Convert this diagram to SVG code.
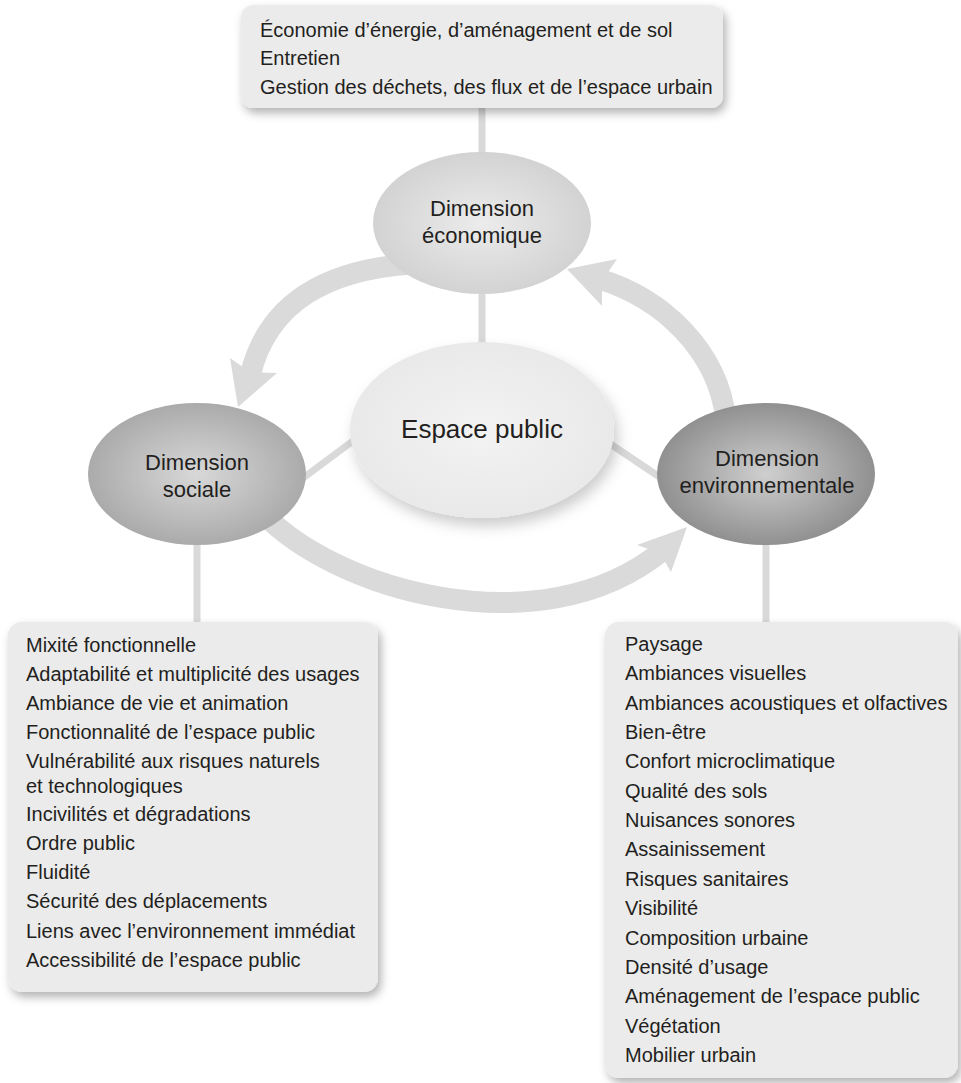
<svg xmlns="http://www.w3.org/2000/svg" width="961" height="1083" viewBox="0 0 961 1083">
<style>
  text { font-family: "Liberation Sans", Arial, sans-serif; fill: #231f20; }
  .list { font-size: 20px; }
  .dim { font-size: 22px; text-anchor: middle; }
  .conn { stroke: #d9d9d9; stroke-width: 7; fill: none; }
  .band { stroke: #dadada; stroke-width: 21; fill: none; }
  .head { fill: #dadada; }
  .box { fill: #ebebeb; }
</style>
<defs>
  <filter id="shadow" x="-10%" y="-10%" width="125%" height="130%">
    <feDropShadow dx="3" dy="5" stdDeviation="5" flood-color="#000" flood-opacity="0.3"/>
  </filter>
  <filter id="eshadow" x="-15%" y="-15%" width="135%" height="140%">
    <feDropShadow dx="4" dy="8" stdDeviation="7" flood-color="#000" flood-opacity="0.2"/>
  </filter>
  <radialGradient id="gEcon" cx="50%" cy="50%" r="55%">
    <stop offset="0" stop-color="#ececec"/>
    <stop offset="1" stop-color="#d0d0d0"/>
  </radialGradient>
  <radialGradient id="gSocial" cx="50%" cy="50%" r="55%">
    <stop offset="0" stop-color="#d8d8d8"/>
    <stop offset="1" stop-color="#a6a6a6"/>
  </radialGradient>
  <radialGradient id="gEnv" cx="50%" cy="50%" r="55%">
    <stop offset="0" stop-color="#cfcfcf"/>
    <stop offset="1" stop-color="#8a8a8a"/>
  </radialGradient>
  <radialGradient id="gCenter" cx="50%" cy="50%" r="55%">
    <stop offset="0" stop-color="#f3f3f3"/>
    <stop offset="1" stop-color="#e8e8e8"/>
  </radialGradient>
</defs>
<rect width="961" height="1083" fill="#ffffff"/>

<g id="connectors">
  <line class="conn" x1="482" y1="100" x2="482" y2="160"/>
  <line class="conn" x1="482" y1="285" x2="482" y2="350"/>
  <line class="conn" x1="295" y1="484" x2="365" y2="432"/>
  <line class="conn" x1="600" y1="437" x2="670" y2="484"/>
  <line class="conn" x1="197" y1="540" x2="197" y2="628"/>
  <line class="conn" x1="766" y1="540" x2="766" y2="628"/>
  <!-- economic -> social -->
  <path class="band" d="M410,264 C330,270 268,300 250,376"/>
  <polygon class="head" points="230,358 238,407 277,373 250,372"/>
  <!-- social -> environmental -->
  <path class="band" d="M258,508 C330,590 540,650 662,551"/>
  <polygon class="head" points="637,545 687,527 671,572 660,553"/>
  <!-- environmental -> economic -->
  <path class="band" d="M726,420 C718,350 662,298 599,279"/>
  <polygon class="head" points="617,259 567,269 602,306 602,281"/>
</g>

<g id="node-top">
  <rect class="box" x="241" y="5" width="482" height="103" rx="12" filter="url(#shadow)"/>
  <text class="list" x="260" y="37">Économie d’énergie, d’aménagement et de sol</text>
  <text class="list" x="260" y="65">Entretien</text>
  <text class="list" x="260" y="94">Gestion des déchets, des flux et de l’espace urbain</text>
</g>

<g id="node-economique">
  <ellipse cx="482" cy="223" rx="109" ry="71" fill="url(#gEcon)"/>
  <text class="dim" x="482" y="216">Dimension</text>
  <text class="dim" x="482" y="243">économique</text>
</g>

<g id="node-espace-public">
  <ellipse cx="482" cy="430" rx="132" ry="88" fill="url(#gCenter)" filter="url(#eshadow)"/>
  <text x="482" y="438" font-size="26" text-anchor="middle">Espace public</text>
</g>

<g id="node-sociale">
  <ellipse cx="197" cy="474" rx="109" ry="71" fill="url(#gSocial)"/>
  <text class="dim" x="197" y="470">Dimension</text>
  <text class="dim" x="197" y="497">sociale</text>
</g>

<g id="node-environnementale">
  <ellipse cx="766" cy="474" rx="109" ry="71" fill="url(#gEnv)"/>
  <text class="dim" x="767" y="466">Dimension</text>
  <text class="dim" x="767" y="493">environnementale</text>
</g>

<g id="node-list-sociale">
  <rect class="box" x="8" y="622" width="370" height="370" rx="14" filter="url(#shadow)"/>
  <text class="list" x="26" y="652">Mixité fonctionnelle</text>
  <text class="list" x="26" y="681">Adaptabilité et multiplicité des usages</text>
  <text class="list" x="26" y="710">Ambiance de vie et animation</text>
  <text class="list" x="26" y="739">Fonctionnalité de l’espace public</text>
  <text class="list" x="26" y="768">Vulnérabilité aux risques naturels</text>
  <text class="list" x="26" y="793">et technologiques</text>
  <text class="list" x="26" y="821">Incivilités et dégradations</text>
  <text class="list" x="26" y="850">Ordre public</text>
  <text class="list" x="26" y="879">Fluidité</text>
  <text class="list" x="26" y="908">Sécurité des déplacements</text>
  <text class="list" x="26" y="938">Liens avec l’environnement immédiat</text>
  <text class="list" x="26" y="967">Accessibilité de l’espace public</text>
</g>

<g id="node-list-environnementale">
  <rect class="box" x="605" y="622" width="353" height="456" rx="14" filter="url(#shadow)"/>
  <text class="list" x="625" y="651">Paysage</text>
  <text class="list" x="625" y="680">Ambiances visuelles</text>
  <text class="list" x="625" y="710">Ambiances acoustiques et olfactives</text>
  <text class="list" x="625" y="739">Bien-être</text>
  <text class="list" x="625" y="768">Confort microclimatique</text>
  <text class="list" x="625" y="798">Qualité des sols</text>
  <text class="list" x="625" y="827">Nuisances sonores</text>
  <text class="list" x="625" y="856">Assainissement</text>
  <text class="list" x="625" y="886">Risques sanitaires</text>
  <text class="list" x="625" y="915">Visibilité</text>
  <text class="list" x="625" y="945">Composition urbaine</text>
  <text class="list" x="625" y="974">Densité d’usage</text>
  <text class="list" x="625" y="1003">Aménagement de l’espace public</text>
  <text class="list" x="625" y="1033">Végétation</text>
  <text class="list" x="625" y="1062">Mobilier urbain</text>
</g>
</svg>
